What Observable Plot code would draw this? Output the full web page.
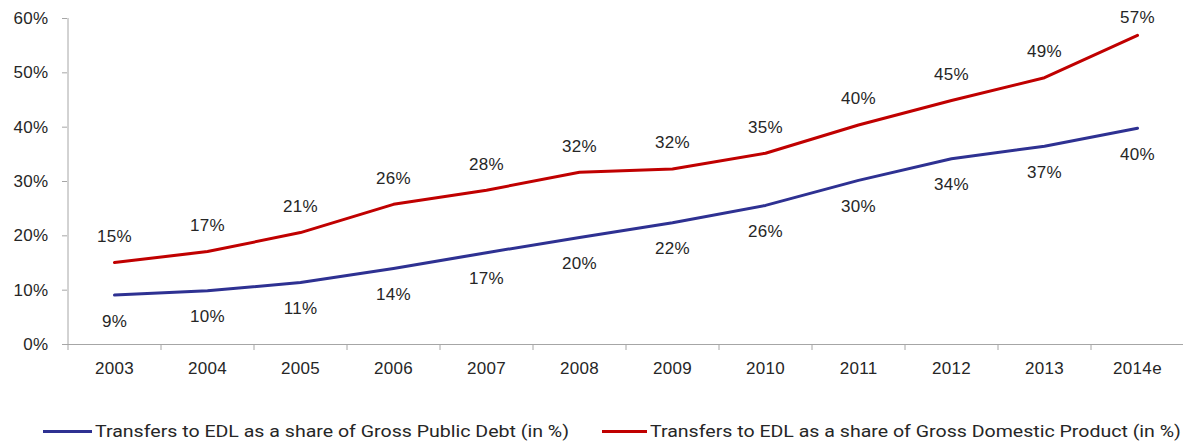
<!DOCTYPE html>
<html>
<head>
<meta charset="utf-8">
<script src="https://cdn.jsdelivr.net/npm/d3@7"></script>
<script src="https://cdn.jsdelivr.net/npm/@observablehq/plot@0.6"></script>
<style>
  html, body { margin: 0; padding: 0; background: #fff; }
  #chart { width: 1184px; height: 443px; position: relative; overflow: hidden; }
  #chart svg { font-family: "Liberation Sans", Arial, sans-serif !important; font-size: 17px !important; }
  #chart svg text { letter-spacing: 0.3px; }
  #legend { position: absolute; left: 0; top: 400px; width: 1184px; height: 43px;
            font-family: Roboto, "Liberation Sans", Arial, sans-serif; font-size: 17px; color: #262626; }
  .item { position: absolute; top: 21px; display: flex; align-items: center; height: 20px; white-space: nowrap; }
  .sw { height: 3px; margin-right: 3px; flex: none; }
  .lt { display: inline-block; transform: scaleX(1.15); transform-origin: left center; }
</style>
</head>
<body>
<div id="chart"></div>
<script>
const years = ["2003","2004","2005","2006","2007","2008","2009","2010","2011","2012","2013","2014e"];
const debtShare = [9.1, 9.9, 11.4, 14.0, 16.9, 19.7, 22.4, 25.6, 30.2, 34.2, 36.5, 39.8];
const gdpShare  = [15.1, 17.1, 20.6, 25.8, 28.4, 31.7, 32.3, 35.2, 40.4, 44.9, 49.1, 56.9];
const yTicks = [0, 10, 20, 30, 40, 50, 60];
const seriesNames = [
  "Transfers to EDL as a share of Gross Public Debt (in %)",
  "Transfers to EDL as a share of Gross Domestic Product (in %)"
];
const colors = ["#2E3192", "#C00000"];

const debt = years.map((y, i) => ({year: y, v: debtShare[i]}));
const gdp = years.map((y, i) => ({year: y, v: gdpShare[i]}));

const W = 1184, H = 400, mL = 67, mR = 1, mT = 18, mB = 56;
const half = (W - mL - mR) / years.length / 2;
const axisColor = "#a6a6a6";
const textColor = "#262626";
const fmt = d => Math.round(d.v) + "%";
const lastYear = years[years.length - 1];

const plot = Plot.plot({
  width: W, height: H,
  marginLeft: mL, marginRight: mR, marginTop: mT, marginBottom: mB,
  style: {color: textColor, background: "#fff"},
  x: {type: "point", domain: years, padding: 0.5},
  y: {domain: [0, 60]},
  marks: [
    Plot.ruleX([years[0]], {dx: -half, stroke: axisColor}),
    Plot.ruleY([0], {stroke: axisColor}),
    Plot.axisY({ticks: yTicks, tickFormat: d => d + "%", tickSize: 5, tickPadding: 14, stroke: axisColor, fill: textColor, label: null}),
    Plot.axisX({tickSize: 6, dx: -half, tickFormat: () => "", stroke: axisColor, label: null}),
    Plot.axisX({tickSize: 0, tickPadding: 17, fill: textColor, label: null}),
    Plot.line(debt, {x: "year", y: "v", stroke: colors[0], strokeWidth: 3}),
    Plot.line(gdp, {x: "year", y: "v", stroke: colors[1], strokeWidth: 3}),
    Plot.text(debt, {x: "year", y: "v", text: fmt, dy: 26, fill: textColor}),
    Plot.text(gdp.filter(d => d.year !== lastYear), {x: "year", y: "v", text: fmt, dy: -26, fill: textColor}),
    Plot.text(gdp.filter(d => d.year === lastYear), {x: "year", y: "v", text: fmt, dy: -18, fill: textColor})
  ]
});

const chart = document.getElementById("chart");
chart.appendChild(plot);

const legend = document.createElement("div");
legend.id = "legend";
const lefts = [43, 602];
const swW = [49, 45];
seriesNames.forEach((name, i) => {
  const item = document.createElement("div");
  item.className = "item";
  item.style.left = lefts[i] + "px";
  const sw = document.createElement("span");
  sw.className = "sw";
  sw.style.width = swW[i] + "px";
  sw.style.background = colors[i];
  const t = document.createElement("span");
  t.className = "lt";
  t.textContent = name;
  item.appendChild(sw);
  item.appendChild(t);
  legend.appendChild(item);
});
chart.appendChild(legend);
</script>
</body>
</html>
